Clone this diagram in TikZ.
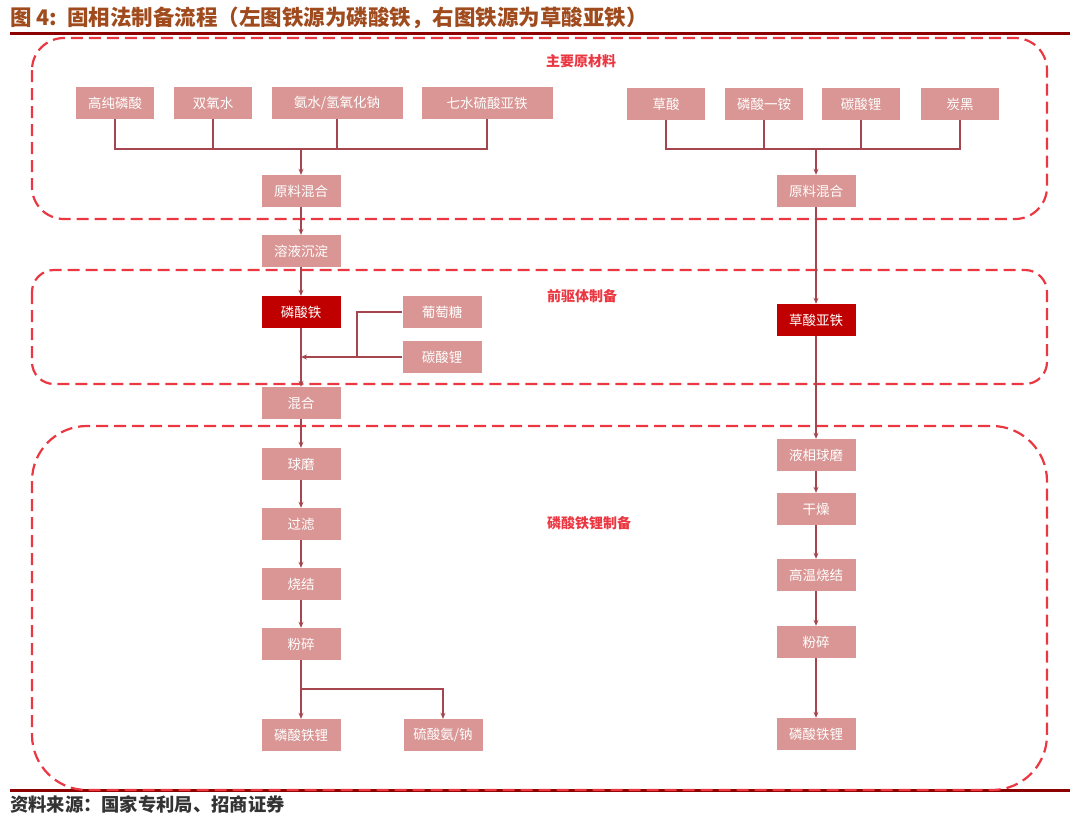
\documentclass[tikz,border=0pt]{standalone}
\usepackage{fontspec}
\setmainfont{Noto Sans CJK SC}
\usetikzlibrary{arrows.meta}
\definecolor{boxpink}{RGB}{217,150,148}
\definecolor{darkbox}{RGB}{192,0,0}
\definecolor{connc}{RGB}{165,70,78}
\definecolor{dashred}{RGB}{235,55,65}
\definecolor{titlebrown}{RGB}{160,75,30}
\definecolor{rulered}{RGB}{140,0,0}
\tikzset{
 stepbox/.style={fill=boxpink, text=white, minimum height=32pt, minimum width=79pt, inner sep=0pt, font=\fontsize{13.5}{13.5}\selectfont},
 keybox/.style={stepbox, fill=darkbox},
 region/.style={draw=dashred, line width=2.2pt, dash pattern=on 12pt off 6pt},
 conn/.style={draw=connc, line width=1.4pt},
 arr/.style={conn, -{Stealth[length=6pt,width=5pt]}},
 seclabel/.style={text=dashred, inner sep=0pt, font=\bfseries\fontsize{14}{14}\selectfont},
}
\begin{document}
\begin{tikzpicture}[x=1pt,y=-1pt]
\useasboundingbox (0,0) rectangle (1080,822);
% title and rules
\node[anchor=west, inner sep=0pt, text=titlebrown, font=\bfseries\fontsize{21.5}{21.5}\selectfont] (title) at (10,18) {图 4:~~固相法制备流程（左图铁源为磷酸铁，右图铁源为草酸亚铁）};
\coordinate (tr1) at (10,33); \coordinate (tr2) at (1070,33);
\draw[rulered, line width=3pt] (tr1) -- (tr2);
\coordinate (fr1) at (10,790); \coordinate (fr2) at (1070,790);
\draw[rulered, line width=3pt] (fr1) -- (fr2);
\node[anchor=west, inner sep=0pt, text=black!80, font=\bfseries\fontsize{18.3}{18.3}\selectfont] (foot) at (10,805) {资料来源：国家专利局、招商证券};
% regions
\draw[region, rounded corners=32pt] (32,38) rectangle (1047,219);
\draw[region, rounded corners=22pt] (32,270) rectangle (1047,384);
\draw[region, rounded corners=55pt] (32,426) rectangle (1047,790);
\node[seclabel] (sec1) at (581,61) {主要原材料};
\node[seclabel] (sec2) at (582,296) {前驱体制备};
\node[seclabel] (sec3) at (589,523) {磷酸铁锂制备};
% left raw materials
\node[stepbox, minimum width=78pt] (a1) at (115,103) {高纯磷酸};
\node[stepbox, minimum width=78pt] (a2) at (213,103) {双氧水};
\node[stepbox, minimum width=131pt] (a3) at (337,103) {氨水/氢氧化钠};
\node[stepbox, minimum width=131pt] (a4) at (487,103) {七水硫酸亚铁};
% right raw materials
\node[stepbox, minimum width=78pt] (b1) at (666,104) {草酸};
\node[stepbox, minimum width=78pt] (b2) at (764,104) {磷酸一铵};
\node[stepbox, minimum width=78pt] (b3) at (861,104) {碳酸锂};
\node[stepbox, minimum width=78pt] (b4) at (960,104) {炭黑};
% left column
\node[stepbox] (m1) at (301,191) {原料混合};
\node[stepbox] (m2) at (301,251) {溶液沉淀};
\node[keybox] (m3) at (301,312) {磷酸铁};
\node[stepbox] (g1) at (442,312) {葡萄糖};
\node[stepbox] (g2) at (442,357) {碳酸锂};
\node[stepbox] (m4) at (301,403) {混合};
\node[stepbox] (m5) at (301,464) {球磨};
\node[stepbox] (m6) at (301,524) {过滤};
\node[stepbox] (m7) at (301,584) {烧结};
\node[stepbox] (m8) at (301,644) {粉碎};
\node[stepbox] (m9) at (301,735) {磷酸铁锂};
\node[stepbox] (s1) at (443,735) {硫酸氨/钠};
% right column
\node[stepbox] (r1) at (816,191) {原料混合};
\node[keybox] (r2) at (816,320) {草酸亚铁};
\node[stepbox] (r3) at (816,455) {液相球磨};
\node[stepbox] (r4) at (816,509) {干燥};
\node[stepbox] (r5) at (816,575) {高温烧结};
\node[stepbox] (r6) at (816,642) {粉碎};
\node[stepbox] (r7) at (816,734) {磷酸铁锂};
% left collectors
\coordinate (lh) at (301,149);
\draw[conn] (a1.south) |- (a4.south |- lh) -- (a4.south);
\draw[conn] (a2.south) -- (a2.south |- lh);
\draw[conn] (a3.south) -- (a3.south |- lh);
\draw[arr] (lh) -- (m1.north);
% right collectors
\coordinate (rh) at (816,149);
\draw[conn] (b1.south) |- (b4.south |- rh) -- (b4.south);
\draw[conn] (b2.south) -- (b2.south |- rh);
\draw[conn] (b3.south) -- (b3.south |- rh);
\draw[arr] (rh) -- (r1.north);
% left flow
\draw[arr] (m1) -- (m2);
\draw[arr] (m2) -- (m3);
\draw[arr] (m3) -- (m4);
\coordinate (gj) at (357,312);
\draw[conn] (g1.west) -- (gj) -- (gj |- g2.west);
\draw[arr] (g2.west) -- (m3.south |- g2.west);
\draw[arr] (m4) -- (m5);
\draw[arr] (m5) -- (m6);
\draw[arr] (m6) -- (m7);
\draw[arr] (m7) -- (m8);
\coordinate (br) at (301,689);
\draw[conn] (m8.south) -- (br);
\draw[arr] (br) -- (m9.north);
\draw[arr] (br) -| (s1.north);
% right flow
\draw[arr] (r1) -- (r2);
\draw[arr] (r2) -- (r3);
\draw[arr] (r3) -- (r4);
\draw[arr] (r4) -- (r5);
\draw[arr] (r5) -- (r6);
\draw[arr] (r6) -- (r7);
\end{tikzpicture}
\end{document}
